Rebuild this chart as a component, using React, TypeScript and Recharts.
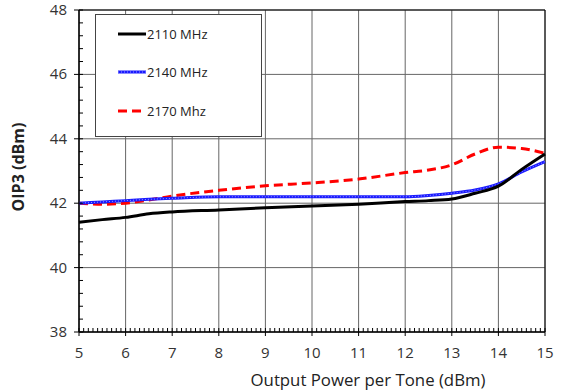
import React from 'react';
import { LineChart, Line, XAxis, YAxis, CartesianGrid, ReferenceArea, Legend } from 'recharts';

const outputPower = [5, 5.5, 6, 6.5, 7, 8, 9, 10, 11, 12, 12.5, 13, 13.5, 14, 14.5, 15];
const oip3_2110 = [41.41, 41.49, 41.56, 41.67, 41.73, 41.79, 41.86, 41.91, 41.97, 42.05, 42.08, 42.13, 42.31, 42.53, 43.05, 43.53];
const oip3_2140 = [42.0, 42.04, 42.08, 42.12, 42.15, 42.2, 42.2, 42.2, 42.2, 42.2, 42.24, 42.31, 42.41, 42.6, 42.97, 43.29];
const oip3_2170 = [42.0, 41.97, 42.0, 42.1, 42.22, 42.4, 42.54, 42.63, 42.75, 42.95, 43.03, 43.19, 43.53, 43.74, 43.7, 43.55];
const seriesNames = ['2110 MHz', '2140 MHz', '2170 Mhz'];
const xMajorTicks = [5, 6, 7, 8, 9, 10, 11, 12, 13, 14, 15];
const yMajorTicks = [38, 40, 42, 44, 46, 48];

const data = outputPower.map((x, i) => ({
  x,
  s2110: oip3_2110[i],
  s2140: oip3_2140[i],
  s2170: oip3_2170[i],
}));

const xAllTicks = Array.from({ length: 101 }, (_, i) => Math.round((5 + i * 0.1) * 10) / 10);
const yAllTicks = Array.from({ length: 26 }, (_, i) => Math.round((38 + i * 0.4) * 10) / 10);

const FONT = '"Open Sans", "DejaVu Sans", sans-serif';

const XTick = (props: any) => {
  const { x, y, payload } = props;
  const v = payload.value;
  const major = xMajorTicks.some((t) => Math.abs(t - v) < 1e-6);
  return (
    <g>
      <line x1={x} x2={x} y1={major ? y + 4 : y} y2={y - 4} stroke="#000" strokeWidth={1} />
      {major && (
        <text x={x} y={y + 26} textAnchor="middle" fontSize={15} fill="#333" fontFamily={FONT}>
          {v}
        </text>
      )}
    </g>
  );
};

const YTick = (props: any) => {
  const { x, y, payload } = props;
  const v = payload.value;
  const major = yMajorTicks.some((t) => Math.abs(t - v) < 1e-6);
  return (
    <g>
      <line x1={major ? x - 5 : x} x2={x + 4} y1={y} y2={y} stroke="#000" strokeWidth={1} />
      {major && (
        <text x={x - 12} y={y + 5} textAnchor="end" fontSize={15} fill="#333" fontFamily={FONT}>
          {v}
        </text>
      )}
    </g>
  );
};

const legendStyles = [
  { color: '#000000', dash: undefined as string | undefined },
  { color: '#1a1aff', dash: undefined as string | undefined },
  { color: '#ff0000', dash: '9 5' },
];

const LegendBox = () => (
  <div
    style={{
      width: 167,
      height: 123,
      border: '1px solid #444',
      background: '#fff',
      boxSizing: 'border-box',
      position: 'relative',
      fontFamily: FONT,
    }}
  >
    {seriesNames.map((name, i) => (
      <div
        key={name}
        style={{ position: 'absolute', left: 21, top: 18.5 + i * 38.5 - 9, height: 18, display: 'flex', alignItems: 'center' }}
      >
        <svg width={30} height={18}>
          <line x1={1} x2={29} y1={9} y2={9} stroke={legendStyles[i].color} strokeWidth={3} strokeDasharray={legendStyles[i].dash} />
          {i === 1 && <line x1={1} x2={29} y1={9} y2={9} stroke="#9a9aff" strokeWidth={1} strokeDasharray="1 2" />}
        </svg>
        <span style={{ fontSize: 13, color: '#222', marginLeft: 0, whiteSpace: 'nowrap' }}>{name}</span>
      </div>
    ))}
  </div>
);

export default function App() {
  return (
    <div style={{ position: 'absolute', left: 0, top: 0, background: '#fff' }}>
      <LineChart width={567} height={391} data={data} margin={{ top: 10, right: 22, left: 0, bottom: 0 }}>
        <CartesianGrid
          stroke="#666"
          strokeWidth={1}
          horizontalValues={yMajorTicks}
          verticalValues={xMajorTicks}
        />
        <XAxis
          dataKey="x"
          type="number"
          domain={[5, 15]}
          ticks={xAllTicks}
          interval={0}
          height={59}
          tickSize={0}
          tickMargin={0}
          tickLine={false}
          axisLine={{ stroke: '#000' }}
          tick={<XTick />}
          label={() => (
            <text x={368} y={386} textAnchor="middle" fontSize={16.8} fill="#222" fontFamily={FONT}>
              Output Power per Tone (dBm)
            </text>
          )}
        />
        <YAxis
          type="number"
          domain={[38, 48]}
          ticks={yAllTicks}
          interval={0}
          width={79}
          tickSize={0}
          tickMargin={0}
          tickLine={false}
          axisLine={{ stroke: '#000' }}
          tick={<YTick />}
          label={() => (
            <text
              x={18}
              y={167}
              transform="rotate(-90 18 167)"
              textAnchor="middle"
              dominantBaseline="central"
              fontSize={16}
              fontWeight="bold"
              fill="#222"
              fontFamily={FONT}
            >
              OIP3 (dBm)
            </text>
          )}
        />
        <ReferenceArea x1={5} x2={15} y1={38} y2={48} fill="none" stroke="#000" strokeWidth={1} ifOverflow="visible" />
        <Line dataKey="s2170" type="monotone" stroke="#ff0000" strokeWidth={3} strokeDasharray="9 5" dot={false} isAnimationActive={false} />
        <Line dataKey="s2140" type="monotone" stroke="#1a1aff" strokeWidth={3} dot={false} isAnimationActive={false} />
        <Line dataKey="s2140" type="monotone" stroke="#9a9aff" strokeWidth={1} strokeDasharray="1 2" dot={false} legendType="none" isAnimationActive={false} />
        <Line dataKey="s2110" type="monotone" stroke="#000000" strokeWidth={3} dot={false} isAnimationActive={false} />
        <Legend
          layout="vertical"
          align="center"
          verticalAlign="middle"
          content={() => <LegendBox />}
          wrapperStyle={{ position: 'absolute', left: 95, top: 14, width: 167, height: 123 }}
        />
      </LineChart>
    </div>
  );
}
